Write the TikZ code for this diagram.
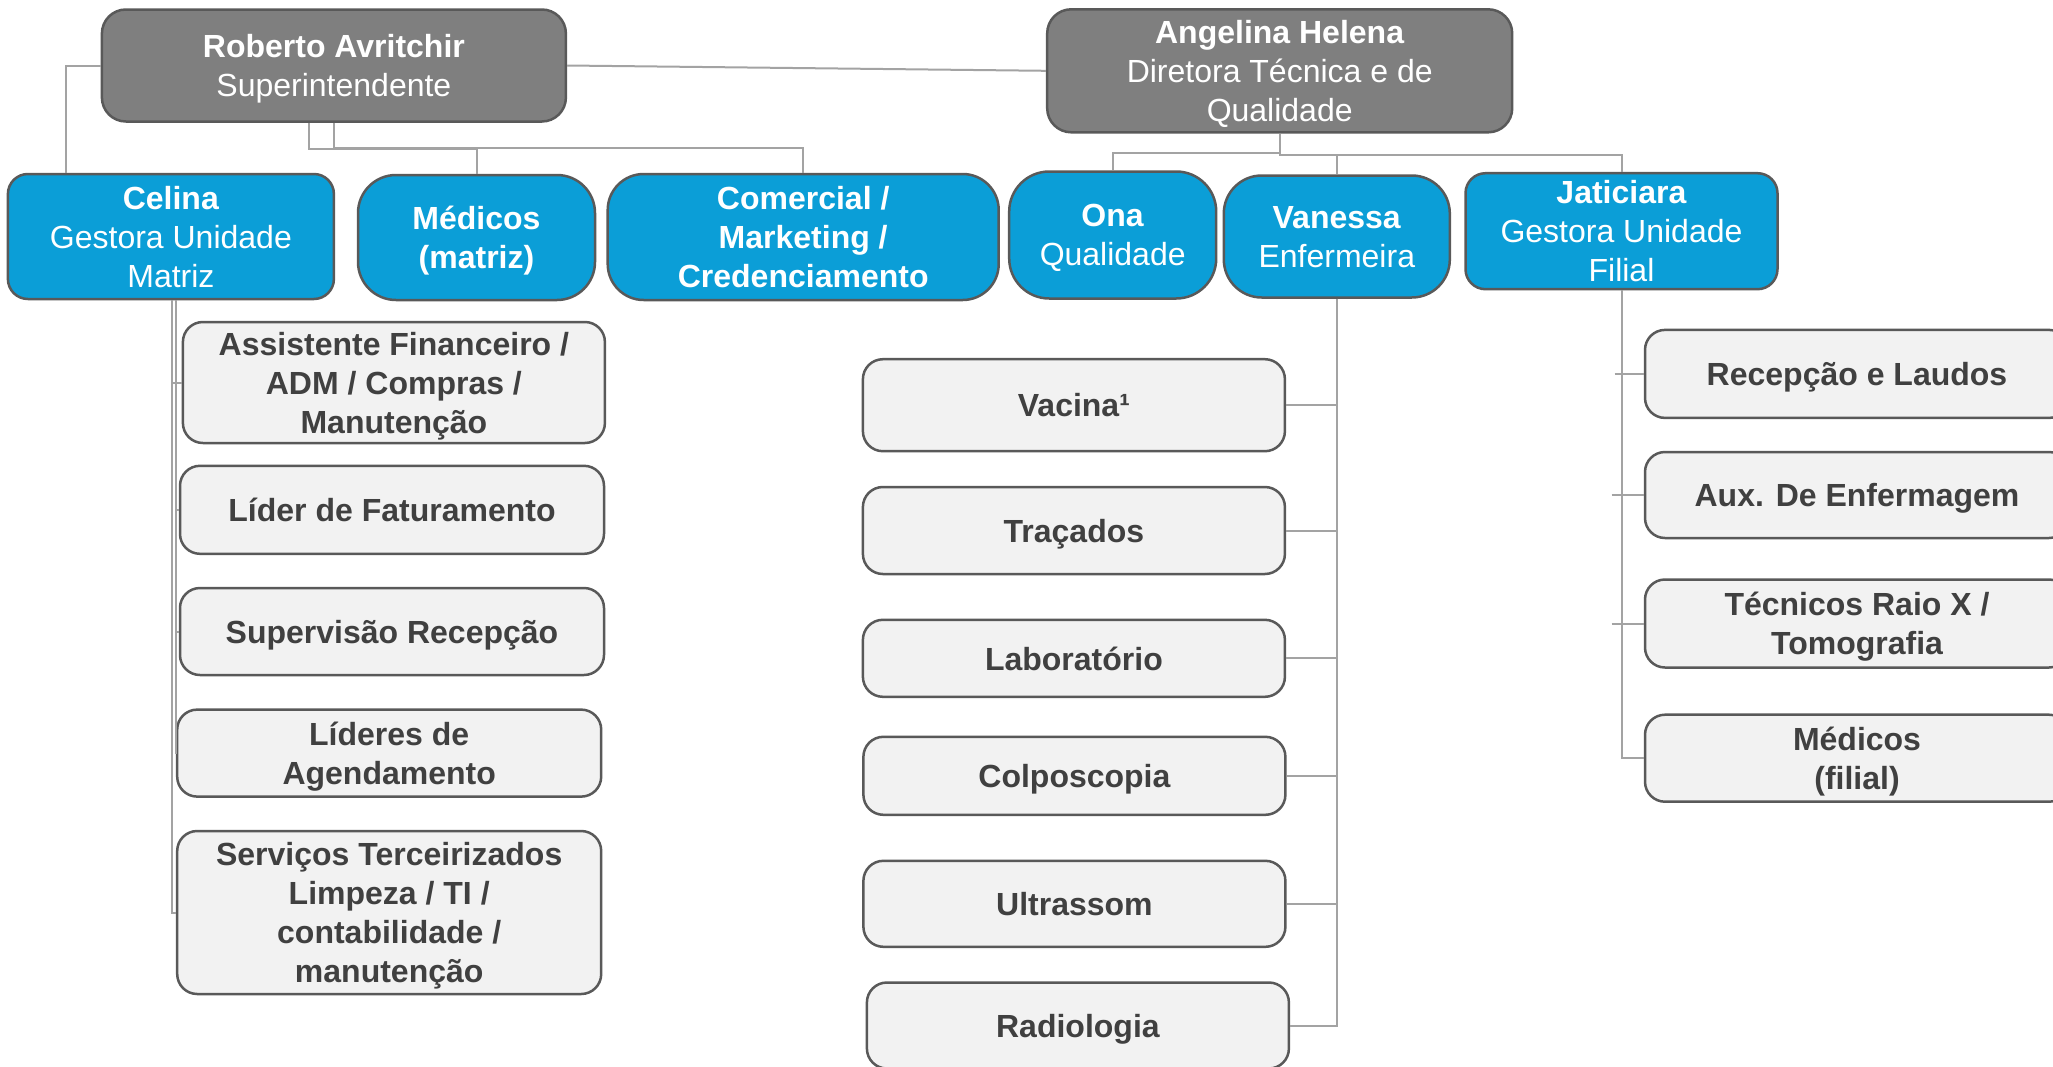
\documentclass[tikz,border=0pt]{standalone}
\usepackage{fontspec}
\setmainfont{Liberation Sans}
\usetikzlibrary{calc}
\definecolor{darkfill}{HTML}{7F7F7F}
\definecolor{bluefill}{HTML}{0B9ED7}
\definecolor{edgegray}{HTML}{595959}
\definecolor{conn}{HTML}{A3A3A3}
\definecolor{subfill}{HTML}{F2F2F2}
\definecolor{subtext}{HTML}{404040}
\tikzset{
  box/.style={rectangle, draw=edgegray, line width=2.5pt, align=center, inner sep=0pt,
              text depth=0pt, font=\fontsize{32}{39}\selectfont},
  mgr/.style={box, fill=darkfill, text=white, rounded corners=24},
  lead/.style={box, fill=bluefill, text=white},
  unit/.style={box, fill=subfill, text=subtext, rounded corners=20,
               font=\fontsize{32}{39}\selectfont\bfseries},
  wire/.style={draw=conn, line width=2pt},
}
\begin{document}
\begin{tikzpicture}[x=1pt,y=-1pt]
\useasboundingbox (0,0) rectangle (2053,1066);
\clip (0,0) rectangle (2053,1066);

% top managers
\node[mgr, minimum width=464, minimum height=112] (rob) at (333.9,65.5)
  {\textbf{Roberto Avritchir}\\Superintendente};
\node[mgr, minimum width=465, minimum height=123] (ang) at (1279.7,70.8)
  {\textbf{Angelina Helena}\\Diretora Técnica e de\\Qualidade};

% blue leads
\node[lead, rounded corners=20, minimum width=326, minimum height=125] (cel) at (170.9,236.5)
  {\textbf{Celina}\\Gestora Unidade\\Matriz};
\node[lead, rounded corners=38, minimum width=237, minimum height=125] (med) at (476.5,237.5)
  {\textbf{Médicos}\\\textbf{(matriz)}};
\node[lead, rounded corners=36, minimum width=391, minimum height=126] (com) at (803.2,237)
  {\textbf{Comercial /}\\\textbf{Marketing /}\\\textbf{Credenciamento}};
\node[lead, rounded corners=40, minimum width=207, minimum height=127] (ona) at (1112.7,235)
  {\textbf{Ona}\\Qualidade};
\node[lead, rounded corners=38, minimum width=226, minimum height=122] (van) at (1336.8,236.5)
  {\textbf{Vanessa}\\Enfermeira};
\node[lead, rounded corners=20, minimum width=312, minimum height=116] (jat) at (1621.5,231.2)
  {\textbf{Jaticiara}\\Gestora Unidade\\Filial};

% left column
\node[unit, minimum width=422, minimum height=121] (asst) at (393.9,382.5)
  {Assistente Financeiro /\\ADM / Compras /\\Manutenção};
\node[unit, minimum width=424, minimum height=88] (lid) at (392,509.8)
  {Líder de Faturamento};
\node[unit, minimum width=424, minimum height=87] (sup) at (392,631.5)
  {Supervisão Recepção};
\node[unit, minimum width=424, minimum height=87] (ldr) at (389.2,753.1)
  {Líderes de\\Agendamento};
\node[unit, minimum width=424, minimum height=163] (serv) at (389.2,912.5)
  {Serviços Terceirizados\\Limpeza / TI /\\contabilidade /\\manutenção};

% middle column
\node[unit, minimum width=422, minimum height=92] (vac) at (1073.9,405.2) {Vacina¹};
\node[unit, minimum width=422, minimum height=87] (tra) at (1073.9,530.5) {Traçados};
\node[unit, minimum width=422, minimum height=77] (lab) at (1073.9,658.3) {Laboratório};
\node[unit, minimum width=422, minimum height=78] (col) at (1074.4,775.8) {Colposcopia};
\node[unit, minimum width=422, minimum height=86] (ult) at (1074.4,903.8) {Ultrassom};
\node[unit, minimum width=422, minimum height=86] (rad) at (1077.9,1025.5) {Radiologia};

% right column
\node[unit, minimum width=424, minimum height=88] (rec) at (1857,373.9) {Recepção e Laudos};
\node[unit, minimum width=424, minimum height=86] (aux) at (1857,495) {Aux. De Enfermagem};
\node[unit, minimum width=424, minimum height=88] (tec) at (1857,623.5) {Técnicos Raio X /\\Tomografia};
\node[unit, minimum width=424, minimum height=87] (mfil) at (1857,758.2) {Médicos\\(filial)};

% connectors: top level
\draw[wire] (rob.west) -| ([xshift=59.8]cel.north west);
\draw[wire] (rob.east) -- (ang.west);
\draw[wire] ([xshift=-25]rob.south) -- ++(0,26.6) -| (med.north);
\draw[wire] (rob.south) -- ++(0,25) -| (com.north);
\draw[wire] (ang.south) -- ++(0,19) -| (ona.north);
\draw[wire] (ang.south) -- ++(0,21) -| (van.north);
\draw[wire] (ang.south) -- ++(0,21) -| (jat.north);

% Celina
\draw[wire] ([xshift=0.8]cel.south) |- (asst.west);
\draw[wire] ([xshift=0.8]cel.south) |- (serv.west);
\draw[wire] ([xshift=4.8]cel.south) |- (lid.west);
\draw[wire] ([xshift=4.8]cel.south) |- (sup.west);
\draw[wire] ([xshift=4.8]cel.south) |- (ldr.west);

% Vanessa
\draw[wire] (van.south) |- (vac.east);
\draw[wire] (van.south) |- (tra.east);
\draw[wire] (van.south) |- (lab.east);
\draw[wire] (van.south) |- (col.east);
\draw[wire] (van.south) |- (ult.east);
\draw[wire] (van.south) |- (rad.east);

% Jaticiara
\draw[wire] (jat.south) |- (mfil.west);
\draw[wire] ($(jat.south |- rec.west)+(-7,0)$) -- (rec.west);
\draw[wire] ($(jat.south |- aux.west)+(-10,0)$) -- (aux.west);
\draw[wire] ($(jat.south |- tec.west)+(-10,0)$) -- (tec.west);
\end{tikzpicture}
\end{document}
